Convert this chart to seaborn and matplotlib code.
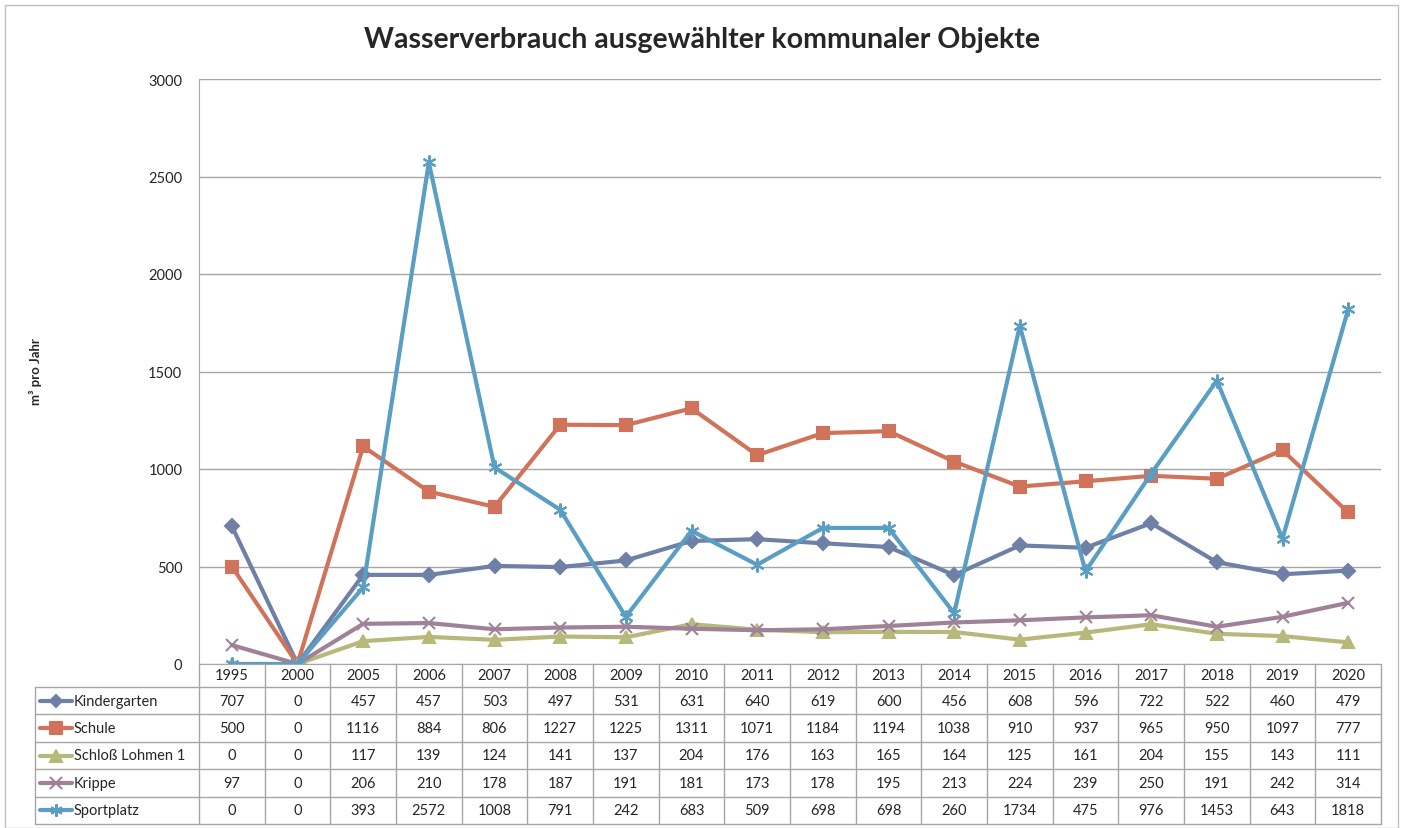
import seaborn as sns
import matplotlib.pyplot as plt
import pandas as pd
from matplotlib.lines import Line2D
from matplotlib.patches import Rectangle

# Daten
years = ['1995', '2000', '2005', '2006', '2007', '2008', '2009', '2010', '2011',
         '2012', '2013', '2014', '2015', '2016', '2017', '2018', '2019', '2020']
kindergarten = [707, 0, 457, 457, 503, 497, 531, 631, 640, 619, 600, 456, 608, 596, 722, 522, 460, 479]
schule = [500, 0, 1116, 884, 806, 1227, 1225, 1311, 1071, 1184, 1194, 1038, 910, 937, 965, 950, 1097, 777]
schloss = [0, 0, 117, 139, 124, 141, 137, 204, 176, 163, 165, 164, 125, 161, 204, 155, 143, 111]
krippe = [97, 0, 206, 210, 178, 187, 191, 181, 173, 178, 195, 213, 224, 239, 250, 191, 242, 314]
sportplatz = [0, 0, 393, 2572, 1008, 791, 242, 683, 509, 698, 698, 260, 1734, 475, 976, 1453, 643, 1818]

series = ['Kindergarten', 'Schule', 'Schloß Lohmen 1', 'Krippe', 'Sportplatz']
values = [kindergarten, schule, schloss, krippe, sportplatz]
colors = ['#6F80A6', '#D0735A', '#B7B97A', '#A08298', '#5B9EC4']
markers = ['D', 's', '^', 'x', (6, 2, 0)]
msizes = [7.5, 9, 9, 9, 10]

sns.set_style('white')
plt.rcParams['font.family'] = ['Lato', 'DejaVu Sans']

fig = plt.figure(figsize=(14.05, 8.29), dpi=100)
fig.patches.append(Rectangle((5 / 1405, 0), 1393 / 1405, 823 / 829, transform=fig.transFigure,
                             fill=False, edgecolor='#BFBFBF', linewidth=1))
ax = fig.add_axes([199 / 1405, 1 - 665 / 829, 1182 / 1405, 585 / 829])

pos = list(range(len(years)))
for name, vals, c, m, ms in zip(series, values, colors, markers, msizes):
    sns.lineplot(x=pos, y=vals, color=c, marker=m, linewidth=3, markersize=ms,
                 markeredgewidth=1.5, markeredgecolor=c, ax=ax, label=name, legend=False)

ax.set_xlim(-0.5, len(years) - 0.5)
ax.set_ylim(0, 3000)
ax.set_yticks(range(0, 3001, 500))
ax.tick_params(axis='y', labelsize=10.5, length=0, pad=12)
ax.set_xticks([])
ax.set_xlabel('')
ax.set_ylabel('')
ax.grid(axis='y', color='#A6A6A6', linewidth=1)
for s in ['top', 'right']:
    ax.spines[s].set_visible(False)
ax.spines['left'].set_color('#A6A6A6')
ax.spines['bottom'].set_color('#A6A6A6')

fig.text(36 / 1405, 1 - 372 / 829, 'm³ pro Jahr', rotation=90, ha='center', va='center',
         fontsize=9.5, fontweight='bold')
fig.text(0.5, 1 - 40 / 829, 'Wasserverbrauch ausgewählter kommunaler Objekte',
         ha='center', va='center', fontsize=20.5, fontweight='bold')

# Datentabelle unter dem Diagramm
px = 1 / 585  # Pixel in Achsenkoordinaten (y)
year_bot = -23 * px
row_h = 27.4 * px
table_bot = year_bot - 5 * row_h
unit = 1182 / len(years)
left_x = -0.5 - (199 - 35) / unit
tr = ax.get_xaxis_transform()
lc = '#A6A6A6'

for i in range(len(years) + 1):
    ax.plot([i - 0.5, i - 0.5], [0, table_bot], color=lc, lw=1, transform=tr, clip_on=False)
ax.plot([left_x, left_x], [year_bot, table_bot], color=lc, lw=1, transform=tr, clip_on=False)
for k in range(6):
    y = year_bot - k * row_h
    ax.plot([left_x, len(years) - 0.5], [y, y], color=lc, lw=1, transform=tr, clip_on=False)

for i, yr in enumerate(years):
    ax.text(i, year_bot / 2, yr, ha='center', va='center', fontsize=10.5, transform=tr)

for k, (name, vals) in enumerate(zip(series, values)):
    yc = year_bot - (k + 0.5) * row_h
    for i, v in enumerate(vals):
        ax.text(i, yc, str(v), ha='center', va='center', fontsize=10.5, transform=tr)
    x0 = left_x + 5 / unit
    x1 = left_x + 37 / unit
    ax.add_line(Line2D([x0, x1], [yc, yc], color=colors[k], lw=3, transform=tr, clip_on=False))
    ax.add_line(Line2D([(x0 + x1) / 2], [yc], color=colors[k], marker=markers[k],
                       markersize=msizes[k] - 1, markeredgewidth=1.5, markeredgecolor=colors[k],
                       transform=tr, clip_on=False))
    ax.text(x1 + 2 / unit, yc, name, ha='left', va='center', fontsize=10.5, transform=tr)

fig.savefig('out.png', dpi=100)
